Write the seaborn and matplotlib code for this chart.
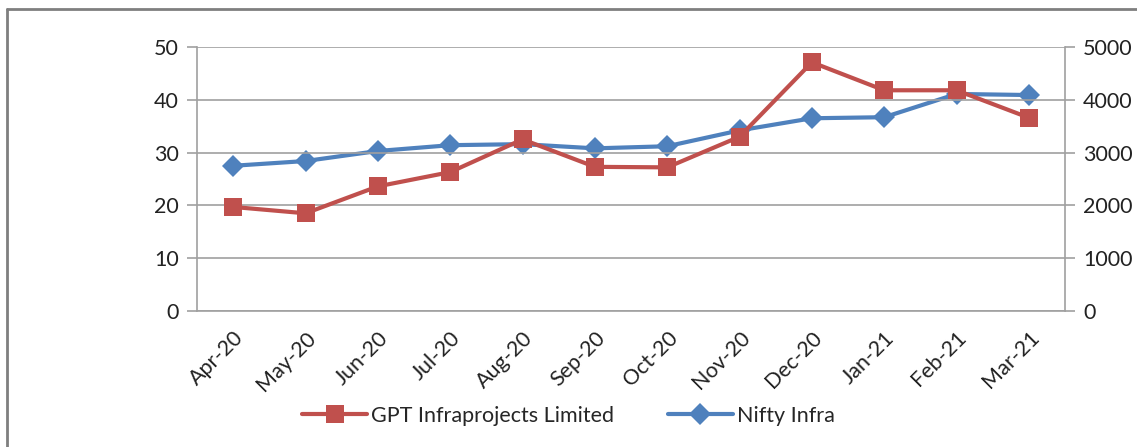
import numpy as np
import pandas as pd
import seaborn as sns
import matplotlib.pyplot as plt
from matplotlib.lines import Line2D

# data
months = ['Apr-20', 'May-20', 'Jun-20', 'Jul-20', 'Aug-20', 'Sep-20',
          'Oct-20', 'Nov-20', 'Dec-20', 'Jan-21', 'Feb-21', 'Mar-21']
gpt_price = [19.7, 18.5, 23.6, 26.3, 32.5, 27.3, 27.2, 33.0, 47.1, 41.8, 41.8, 36.6]
nifty_infra = [2750, 2840, 3030, 3140, 3160, 3080, 3120, 3420, 3650, 3670, 4110, 4090]

red = '#C0504D'
blue = '#4F81BD'
grid_col = '#A0A0A0'

sns.set_style('white')
plt.rcParams['font.family'] = ['Lato', 'DejaVu Sans']

df = pd.DataFrame({'pos': np.arange(len(months)), 'month': months,
                   'gpt': gpt_price, 'nifty': nifty_infra})

fig = plt.figure(figsize=(11.37, 4.47), dpi=100)
ax = fig.add_axes([0.1733, 0.3043, 0.7634, 0.5906])

# outer frame of the chart area (only left and top visible in the crop)
fig.add_artist(Line2D([7 / 1137, 7 / 1137], [0, 1 - 9 / 447], color='#7F7F7F', lw=2,
                      transform=fig.transFigure))
fig.add_artist(Line2D([7 / 1137, 1], [1 - 9 / 447, 1 - 9 / 447], color='#7F7F7F', lw=2,
                      transform=fig.transFigure))

sns.lineplot(data=df, x='pos', y='gpt', ax=ax, color=red, lw=3, marker='s',
             markersize=13, markeredgewidth=0, label='GPT Infraprojects Limited',
             legend=False)
ax.set_ylim(0, 50)
ax.set_yticks(range(0, 51, 10))
ax.set_xlim(-0.5, len(months) - 0.5)
ax.yaxis.grid(True, color=grid_col, lw=1.2)
ax.set_axisbelow(True)

ax2 = ax.twinx()
sns.lineplot(data=df, x='pos', y='nifty', ax=ax2, color=blue, lw=3, marker='D',
             markersize=11, markeredgewidth=0, label='Nifty Infra', legend=False)
ax2.set_ylim(0, 5000)
ax2.set_yticks(range(0, 5001, 1000))
ax.set_zorder(ax2.get_zorder() + 1)
ax.patch.set_visible(False)

for a in (ax, ax2):
    a.set_xlabel('')
    a.set_ylabel('')
    for s in a.spines.values():
        s.set_visible(False)
    a.tick_params(axis='y', labelsize=15.5, colors=grid_col, labelcolor='#222222',
                  length=7, width=1.2, pad=6)

ax.spines['left'].set_visible(True)
ax.spines['bottom'].set_visible(True)
ax2.spines['right'].set_visible(True)
for s in ('left', 'bottom'):
    ax.spines[s].set_color(grid_col)
    ax.spines[s].set_linewidth(1.2)
ax2.spines['right'].set_color(grid_col)
ax2.spines['right'].set_linewidth(1.2)

ax.set_xticks(df['pos'])
ax.set_xticklabels(months, rotation=45, ha='right', rotation_mode='anchor')
ax.set_xticks(np.arange(-0.5, len(months), 1.0), minor=True)
ax.tick_params(axis='x', which='major', length=0, labelsize=15.5,
               labelcolor='#222222', pad=12)
ax.tick_params(axis='x', which='minor', length=7, width=1.2, color=grid_col)

handles = [ax.get_lines()[0], ax2.get_lines()[0]]
fig.legend(handles, ['GPT Infraprojects Limited', 'Nifty Infra'], loc='center',
           bbox_to_anchor=(0.5, 1 - 416 / 447), ncol=2, frameon=False,
           fontsize=15.5, handlelength=3, columnspacing=2.5, handletextpad=0.2)

fig.savefig('out.png', dpi=100)
